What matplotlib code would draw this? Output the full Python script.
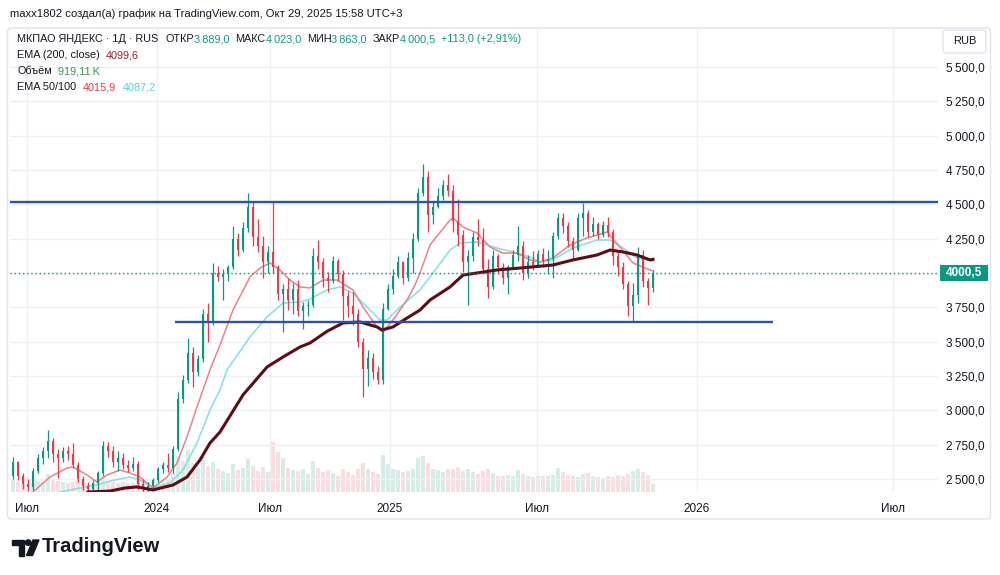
import matplotlib
matplotlib.use("Agg")
import matplotlib.pyplot as plt
import numpy as np
from matplotlib.patches import FancyBboxPatch, Rectangle, Circle, Polygon
from matplotlib.ticker import FuncFormatter
from matplotlib.transforms import IdentityTransform

plt.rcParams["font.family"] = ["Liberation Sans", "DejaVu Sans"]

# ---- данные (сгруппированные свечи, ~5 торговых дней на свечу) ----
OPEN = [2520, 2620, 2520, 2460, 2440, 2560, 2650, 2700, 2780, 2680,
        2650, 2700, 2680, 2600, 2500, 2450, 2430, 2470, 2540, 2740,
        2700, 2620, 2650, 2600, 2580, 2610, 2460, 2430, 2450, 2490,
        2570, 2600, 2580, 2720, 3080, 3220, 3420, 3280, 3370, 3700,
        3640, 4000, 3970, 3990, 4040, 4250, 4170, 4330, 4480, 4260,
        4200, 4080, 4150, 4040, 3850, 3880, 3800, 3880, 3720, 3760,
        3770, 4120, 4080, 3960, 3940, 4090, 3990, 3830, 3760, 3700,
        3500, 3300, 3380, 3280, 3220, 3740, 3880, 3980, 4080, 3960,
        4110, 4250, 4580, 4700, 4420, 4480, 4560, 4640, 4600, 4380,
        4280, 4080, 4120, 4260, 4240, 4030, 3900, 4120, 4040, 3960,
        4040, 4130, 4200, 4000, 4080, 4060, 4140, 4090, 4100, 4270,
        4400, 4340, 4230, 4170, 4400, 4440, 4300, 4360, 4280, 4350,
        4300, 4120, 4040, 3920, 3760, 3840, 4130, 3940, 3889]
HIGH = [2660, 2630, 2540, 2500, 2580, 2680, 2730, 2860, 2800, 2720,
        2730, 2740, 2760, 2620, 2520, 2480, 2490, 2560, 2780, 2770,
        2740, 2700, 2690, 2640, 2660, 2630, 2500, 2480, 2510, 2590,
        2620, 2690, 2740, 3130, 3260, 3530, 3460, 3400, 3740, 3780,
        4070, 4050, 4030, 4060, 4340, 4290, 4370, 4580, 4520, 4390,
        4270, 4200, 4520, 4060, 3920, 3960, 3930, 3950, 3790, 3800,
        4180, 4240, 4110, 4010, 4120, 4100, 4020, 3870, 3860, 3740,
        3530, 3440, 3420, 3320, 3780, 3920, 4030, 4120, 4090, 4150,
        4290, 4620, 4790, 4740, 4520, 4620, 4680, 4720, 4640, 4540,
        4310, 4170, 4300, 4390, 4330, 4100, 4170, 4140, 4070, 4060,
        4170, 4340, 4230, 4130, 4160, 4170, 4180, 4170, 4300, 4440,
        4440, 4370, 4260, 4440, 4510, 4460, 4410, 4370, 4380, 4410,
        4320, 4170, 4080, 3940, 3930, 4190, 4170, 3960, 4023]
LOW = [2500, 2490, 2430, 2410, 2420, 2540, 2610, 2650, 2620, 2510,
       2620, 2640, 2580, 2480, 2420, 2410, 2410, 2420, 2520, 2660,
       2590, 2560, 2570, 2550, 2560, 2430, 2400, 2400, 2420, 2480,
       2540, 2550, 2540, 2700, 3050, 3200, 3170, 3250, 3350, 3500,
       3620, 3940, 3800, 3940, 4030, 4120, 4150, 4300, 4200, 4150,
       3960, 4000, 4000, 3800, 3570, 3730, 3700, 3690, 3590, 3690,
       3750, 4030, 3900, 3860, 3930, 3940, 3660, 3680, 3620, 3460,
       3100, 3180, 3230, 3190, 3190, 3730, 3850, 3960, 3920, 3940,
       4000, 4230, 4560, 4300, 4360, 4470, 4530, 4560, 4300, 4200,
       4010, 3770, 4090, 4200, 3990, 3820, 3880, 3990, 3920, 3850,
       4030, 4090, 3950, 3960, 4020, 4050, 4040, 3990, 3960, 4250,
       4290, 4190, 4110, 4160, 4270, 4260, 4270, 4250, 4260, 4260,
       4060, 3980, 3880, 3690, 3650, 3780, 3900, 3770, 3863]
CLOSE = [2620, 2520, 2460, 2440, 2560, 2650, 2700, 2780, 2680, 2650,
         2700, 2680, 2600, 2500, 2450, 2430, 2470, 2540, 2740, 2700,
         2620, 2650, 2600, 2580, 2610, 2460, 2430, 2450, 2490, 2570,
         2600, 2580, 2720, 3080, 3220, 3420, 3280, 3370, 3700, 3640,
         4000, 3970, 3990, 4040, 4250, 4170, 4330, 4480, 4260, 4200,
         4080, 4150, 4040, 3850, 3880, 3800, 3880, 3720, 3760, 3770,
         4120, 4080, 3960, 3940, 4090, 3990, 3830, 3760, 3700, 3500,
         3300, 3380, 3280, 3220, 3740, 3880, 3980, 4080, 3960, 4110,
         4250, 4580, 4700, 4420, 4480, 4560, 4640, 4600, 4380, 4280,
         4080, 4120, 4260, 4240, 4030, 3900, 4120, 4040, 3960, 4040,
         4130, 4200, 4000, 4080, 4060, 4140, 4090, 4100, 4270, 4400,
         4340, 4230, 4170, 4400, 4440, 4300, 4360, 4280, 4350, 4300,
         4120, 4040, 3920, 3760, 3840, 4130, 3940, 3890, 4000.5]
VOLUME = [1400, 1100, 900, 800, 1000, 1300, 1200, 2100, 1500, 1300,
          1100, 1000, 1200, 1400, 1100, 900, 800, 1000, 1700, 1300,
          1200, 1000, 1100, 900, 1000, 1600, 1400, 1200, 1300, 1700,
          1500, 1400, 2200, 4200, 3600, 4800, 3300, 2800, 4000, 3000,
          3500, 2600, 2400, 2200, 3200, 2500, 2800, 3800, 3000, 2400,
          2900, 2300, 5800, 4600, 3900, 2800, 2500, 2400, 2600, 2100,
          3600, 2800, 2300, 2500, 2200, 1900, 2600, 2300, 2000, 2700,
          3400, 2600, 2300, 2100, 4300, 3200, 2600, 2500, 2300, 2400,
          2600, 3900, 4200, 3300, 2600, 2500, 2300, 2700, 2600, 2900,
          2400, 2700, 2300, 2100, 2400, 2600, 2200, 1900, 1800, 2000,
          1900, 2500, 2100, 1900, 1700, 1800, 1900, 1800, 2000, 2800,
          2300, 2000, 1800, 1700, 2100, 2200, 1800, 1700, 1600, 1800,
          1700, 2000, 1900, 2100, 2400, 2600, 2300, 2000, 920]

# скользящие средние (положение в барах, значение)
EMA200_X = [15, 19.4, 22.4, 24.8, 28, 32, 34.8, 37.4, 39.4, 41.4, 46, 50.8, 54,
            57.4, 59.4, 62.8, 66, 69.4, 72.8, 73.8, 76, 78.8, 81.4, 83.4, 87.4,
            90, 92.8, 96.8, 101.4, 108, 112, 116.8, 119.4, 122, 124.8, 127.4, 128]
EMA200_Y = [2405, 2412, 2434, 2442, 2420, 2456, 2514, 2638, 2762, 2842, 3112, 3315, 3388,
            3461, 3490, 3575, 3636, 3643, 3607, 3585, 3607, 3672, 3730, 3803, 3898,
            3985, 4000, 4022, 4036, 4058, 4095, 4131, 4167, 4153, 4131, 4095, 4099.6]
EMA50_X = [4, 7.4, 10.8, 12, 14.8, 16.8, 18.8, 21.4, 23.4, 25.4, 28, 30.8, 32.8,
           34.8, 36.8, 39.4, 41.4, 44, 47.4, 49.4, 51.4, 53.4, 55.4, 57.4, 59.4,
           62, 64.8, 68, 70, 72.8, 74, 76, 78.8, 80.4, 81.4, 83.4, 87.4, 88, 90,
           92.8, 95.4, 98, 100.8, 103.4, 105.4, 108, 111.4, 114.8, 118.8, 121.4,
           124, 127.4, 128]
EMA50_Y = [2405, 2514, 2580, 2587, 2529, 2478, 2529, 2565, 2543, 2514, 2434, 2514, 2616,
           2806, 3024, 3294, 3476, 3730, 3971, 4036, 4073, 4022, 3949, 3898, 3891,
           3949, 3949, 3876, 3752, 3607, 3570, 3658, 3803, 3913, 4000, 4204, 4386, 4400, 4335,
           4291, 4189, 4145, 4145, 4095, 4080, 4109, 4204, 4255, 4298, 4189,
           4073, 4022, 4015.9]
EMA100_X = [9.4, 13.4, 17.4, 19.4, 23.4, 25.4, 28, 31.4, 34, 36.8, 39.4, 41.4, 42.8,
            47.4, 50.8, 54, 57.4, 59.4, 62.8, 65.4, 68, 70.8, 73.4, 74.8, 77.4,
            81.4, 83.4, 87.4, 89.4, 92.8, 96.8, 100.8, 103.4, 105.4, 108, 112,
            116.8, 119.4, 122, 124.8, 128]
EMA100_Y = [2405, 2434, 2463, 2485, 2514, 2493, 2434, 2471, 2565, 2762, 3002, 3148, 3294,
            3534, 3680, 3781, 3789, 3810, 3876, 3898, 3854, 3752, 3658, 3658, 3752,
            3876, 3971, 4167, 4218, 4226, 4182, 4145, 4116, 4080, 4095, 4182,
            4240, 4240, 4182, 4109, 4087.2]

TICK_POS = [2.8, 28.8, 51.4, 75.4, 104.8, 136.8, 176]
TICK_LAB = ["Июл", "2024", "Июл", "2025", "Июл", "2026", "Июл"]
LEVEL_HIGH = 4515
LEVEL_LOW = 3645
LEVEL_LOW_FROM, LEVEL_LOW_TO = 32.4, 152
LAST = 4000.5

UP, DOWN = "#089981", "#f23645"
DARK = "#131722"

W, H = 1000, 575
fig = plt.figure(figsize=(W / 100, H / 100), dpi=100)
fig.patch.set_facecolor("white")
renderer = fig.canvas.get_renderer()


def fxy(x, y):
    return x / W, 1 - y / H


pos = [10 / W, 1 - 492 / H, 928 / W, 464 / H]
ax_v = fig.add_axes(pos)
ax = fig.add_axes(pos)
ax.patch.set_visible(False)

x = np.arange(len(CLOSE))
o, h, l, c = map(np.array, (OPEN, HIGH, LOW, CLOSE))
up = c >= o
cols = np.where(up, UP, DOWN)

# объём
ax_v.bar(x, VOLUME, width=0.8, color=np.where(up, "#d6ede7", "#f9dde0"), linewidth=0)
ax_v.set_ylim(0, 6000 * 464 / 52)
ax_v.set_xlim(-0.6, 185)
ax_v.axis("off")

# сетка и оси
ax.set_xlim(-0.6, 185)
ax.set_ylim(2405, 5784)
ax.set_yticks(np.arange(2500, 5501, 250))
ax.set_xticks(TICK_POS, TICK_LAB)
ax.grid(color="#eef0f4", lw=1, zorder=0)
for s in ax.spines.values():
    s.set_visible(False)
ax.yaxis.tick_right()


def price_fmt(v, p):
    if abs(v - 4000) < 1:  # закрыто меткой последней цены
        return ""
    return f"{v:,.1f}".replace(",", "\u2009").replace(".", ",")


ax.yaxis.set_major_formatter(FuncFormatter(price_fmt))
ax.tick_params(axis="y", length=0, pad=6, labelsize=8.5, labelcolor=DARK)
ax.tick_params(axis="x", length=0, pad=8, labelsize=8.5, labelcolor=DARK)

# скользящие
ax.plot(EMA100_X, EMA100_Y, color="#80e1e1", lw=1.1, zorder=3)
ax.plot(EMA50_X, EMA50_Y, color="#ec8087", lw=1.1, zorder=3)

# свечи
ax.vlines(x, l, h, color=cols, lw=0.9, zorder=4)
body = np.maximum(np.abs(c - o), 8)
ax.bar(x, body, bottom=np.minimum(o, c), width=0.55, color=cols, linewidth=0, zorder=4)

ax.plot(EMA200_X, EMA200_Y, color="#5e0c16", lw=2.2, zorder=5)

# уровни
ax.axhline(LEVEL_HIGH, color="#2a52a8", lw=1.7, zorder=6)
ax.hlines(LEVEL_LOW, LEVEL_LOW_FROM, LEVEL_LOW_TO, color="#2a52a8", lw=1.7, zorder=6)
ax.axhline(LAST, color=UP, lw=1, ls=(0, (1, 2)), zorder=6)

# рамка
fig.add_artist(FancyBboxPatch((7.5, H - 519), 983, 491, boxstyle="round,pad=0,rounding_size=4",
                              transform=IdentityTransform(), fill=False,
                              edgecolor="#e0e3eb", lw=1))

# метка последней цены
fig.add_artist(Rectangle((940, H - 281), 48, 16, transform=IdentityTransform(),
                         facecolor=UP, edgecolor="none"))
fig.text(*fxy(964, 273), "4000,5", color="white", fontsize=8.5, fontweight="bold",
         ha="center", va="center")

# RUB
fig.add_artist(FancyBboxPatch((943, H - 53), 43, 23, boxstyle="round,pad=0,rounding_size=3",
                              transform=IdentityTransform(), facecolor="white",
                              edgecolor="#e0e3eb", lw=1))
fig.text(*fxy(964.5, 41.5), "RUB", color=DARK, fontsize=8, ha="center", va="center")


def text_line(x0, y, parts, size=7.8):
    xx = x0
    for s, col in parts:
        if isinstance(s, (int, float)):
            xx += s
            continue
        t = fig.text(*fxy(xx, y), s, color=col, fontsize=size, ha="left", va="center")
        xx += t.get_window_extent(renderer).width


fig.text(*fxy(10, 14), "maxx1802 создал(а) график на TradingView.com, Окт 29, 2025 15:58 UTC+3",
         color=DARK, fontsize=8.1, ha="left", va="center")

text_line(17, 39, [("МКПАО ЯНДЕКС · 1Д · RUS", DARK), (7, None),
                   ("ОТКР", DARK), ("3\u2009889,0", UP), (6, None),
                   ("МАКС", DARK), ("4\u2009023,0", UP), (6, None),
                   ("МИН", DARK), ("3\u2009863,0", UP), (6, None),
                   ("ЗАКР", DARK), ("4\u2009000,5", UP), (6, None),
                   ("+113,0 (+2,91%)", UP)])
text_line(17, 55, [("EMA (200, close)", DARK), (6, None), ("4099,6", "#8b2332")])
text_line(17, 71, [("Объём", DARK), (6, None), ("919,11\u2009K", "#2e9a4c")])
text_line(17, 87, [("EMA 50/100", DARK), (7, None), ("4015,9", DOWN), (6, None),
                   ("4087,2", "#45d6e6")])

# логотип
tr = IdentityTransform()
fig.add_artist(Rectangle((12, H - 545), 12, 5.5, transform=tr, color=DARK))
fig.add_artist(Rectangle((18.5, H - 555.5), 5.5, 15, transform=tr, color=DARK))
fig.add_artist(Circle((28.2, H - 542.6), 2.7, transform=tr, color=DARK))
fig.add_artist(Polygon([(33, H - 540), (39, H - 540), (32.5, H - 555.5), (26.5, H - 555.5)],
                       closed=True, transform=tr, color=DARK))
fig.text(*fxy(42, 547), "TradingView", color=DARK, fontsize=14.5, fontweight="bold",
         ha="left", va="center")

fig.savefig("out.png", dpi=100)
